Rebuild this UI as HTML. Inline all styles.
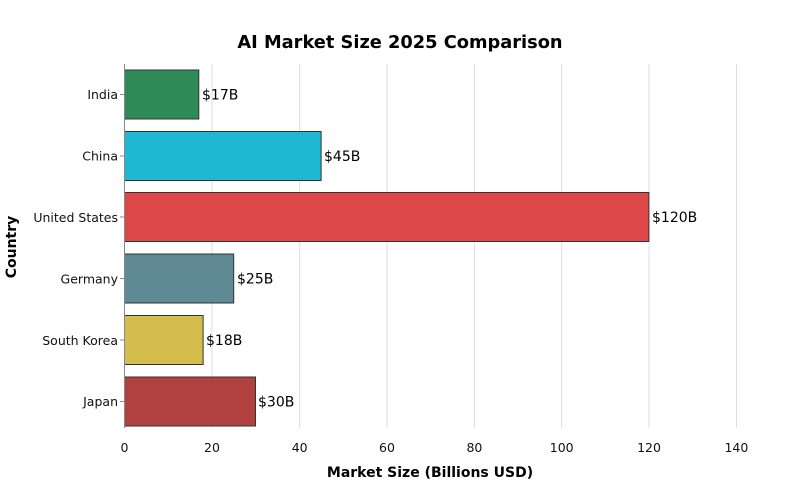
<!DOCTYPE html>
<html><head><meta charset="utf-8"><style>body{margin:0;background:#fff}</style></head><body>
<svg width="800" height="480" xmlns="http://www.w3.org/2000/svg" font-family="DejaVu Sans, Liberation Sans, sans-serif">
<rect width="800" height="480" fill="#fff"/>
<text x="400" y="48" text-anchor="middle" font-size="17.8" font-weight="bold">AI Market Size 2025 Comparison</text>
<g stroke="#dddddd" stroke-width="1">
<line x1="212" y1="64" x2="212" y2="428"/><line x1="299.7" y1="64" x2="299.7" y2="428"/><line x1="387" y1="64" x2="387" y2="428"/><line x1="474.4" y1="64" x2="474.4" y2="428"/><line x1="561.7" y1="64" x2="561.7" y2="428"/><line x1="649" y1="64" x2="649" y2="428"/><line x1="736.4" y1="64" x2="736.4" y2="428"/>
</g>
<g stroke="#333" stroke-width="1">
<rect x="124.5" y="70" width="74.3" height="49" fill="#2e8b57"/>
<rect x="124.5" y="131.5" width="196.6" height="49" fill="#20b8d0"/>
<rect x="124.5" y="192.5" width="524.4" height="49" fill="#dc4848"/>
<rect x="124.5" y="254" width="109.2" height="49" fill="#5f8a93"/>
<rect x="124.5" y="315.5" width="78.6" height="49" fill="#d4bd4c"/>
<rect x="124.5" y="377" width="131" height="49" fill="#b0413e"/>
</g>
<line x1="124.5" y1="64" x2="124.5" y2="428" stroke="#888" stroke-width="1"/>
<g font-size="14" fill="#000">
<text x="202" y="99.5">$17B</text><text x="324" y="161">$45B</text><text x="652" y="222">$120B</text><text x="237" y="283.5">$25B</text><text x="206" y="345">$18B</text><text x="258" y="406.5">$30B</text>
</g>
<g font-size="12.5" text-anchor="end" fill="#111">
<text x="118" y="99">India</text><text x="118" y="160.5">China</text><text x="118" y="222">United States</text><text x="118" y="283.5">Germany</text><text x="118" y="345">South Korea</text><text x="118" y="406">Japan</text>
</g>
<g stroke="#888"><line x1="120" y1="94.5" x2="124.5" y2="94.5"/><line x1="120" y1="156" x2="124.5" y2="156"/><line x1="120" y1="217" x2="124.5" y2="217"/><line x1="120" y1="278.5" x2="124.5" y2="278.5"/><line x1="120" y1="340" x2="124.5" y2="340"/><line x1="120" y1="401.5" x2="124.5" y2="401.5"/></g>
<g font-size="12.5" text-anchor="middle" fill="#111">
<text x="124.5" y="452">0</text><text x="212" y="452">20</text><text x="299.7" y="452">40</text><text x="387" y="452">60</text><text x="474.4" y="452">80</text><text x="561.7" y="452">100</text><text x="649" y="452">120</text><text x="736.4" y="452">140</text>
</g>
<text x="430" y="477" text-anchor="middle" font-size="14" font-weight="bold">Market Size (Billions USD)</text>
<text transform="translate(16,247) rotate(-90)" text-anchor="middle" font-size="14" font-weight="bold">Country</text>
</svg>
</body></html>
